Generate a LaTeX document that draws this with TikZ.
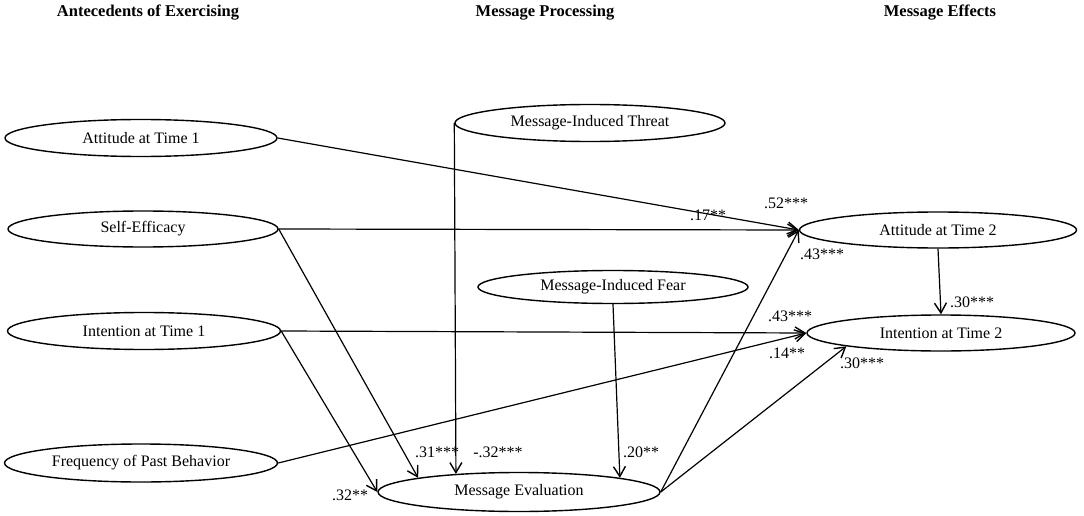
\documentclass[tikz,border=0pt]{standalone}
\usepackage{fontspec}
\setmainfont{Liberation Serif}
\usetikzlibrary{shapes.geometric,arrows.meta}
\tikzset{
  var/.style={draw, ellipse, line width=1.4pt, inner sep=0pt, font=\fontsize{16}{18}\selectfont},
  coef/.style={font=\fontsize{16}{18}\selectfont, inner sep=0pt},
  ttl/.style={font=\fontsize{16.5}{19}\selectfont\bfseries, inner sep=0pt},
  path/.style={line width=1.2pt, -{Straight Barb[length=10pt,width=12pt,line width=1.4pt]}}
}
\begin{document}
\begin{tikzpicture}[x=1pt,y=-1pt]
\useasboundingbox (0,0) rectangle (1084,516);
% titles
\node[ttl] (t1) at (148,13) {Antecedents of Exercising};
\node[ttl] (t2) at (545,13) {Message Processing};
\node[ttl] (t3) at (940,13) {Message Effects};
% variables
\node[var, minimum width=272pt, minimum height=37pt] (at1) at (141,138) {Attitude at Time 1};
\node[var, minimum width=270pt, minimum height=36pt] (se) at (143,229) {Self-Efficacy};
\node[var, minimum width=273pt, minimum height=37pt] (it1) at (144,331) {Intention at Time 1};
\node[var, minimum width=273pt, minimum height=38pt] (fr) at (141,463) {Frequency of Past Behavior};
\node[var, minimum width=270pt, minimum height=37pt] (thr) at (590,123) {Message-Induced Threat};
\node[var, minimum width=270pt, minimum height=33pt] (fear) at (613,287) {Message-Induced Fear};
\node[var, minimum width=282pt, minimum height=39pt] (me) at (519,492) {Message Evaluation};
\node[var, minimum width=277pt, minimum height=36pt] (at2) at (938,230) {Attitude at Time 2};
\node[var, minimum width=268pt, minimum height=36pt] (it2) at (941,333) {Intention at Time 2};
% paths
\draw[path] (at1.east) -- (at2.west);
\draw[path] (se.east) -- (at2.west);
\draw[path] (se.east) -- (me.172);
\draw[path] (thr.west) -- (me.164.6);
\draw[path] (it1.east) -- (it2.west);
\draw[path] (it1.east) -- (me.west);
\draw[path] (fr.east) -- (it2.west);
\draw[path] (fear.south) -- (me.8.1);
\draw[path] (me.east) -- (at2.west);
\draw[path] (me.east) -- (it2.188);
\draw[path] (at2.south) -- (it2.north);
% coefficients
\node[coef] (c1) at (786,203) {.52***};
\node[coef] (c2) at (708,215) {.17**};
\node[coef] (c3) at (822,254) {.43***};
\node[coef] (c4) at (972,302) {.30***};
\node[coef] (c5) at (790,316) {.43***};
\node[coef] (c6) at (787,353) {.14**};
\node[coef] (c7) at (862,363) {.30***};
\node[coef] (c8) at (437,452) {.31***};
\node[coef] (c9) at (498,452) {-.32***};
\node[coef] (c10) at (641,452) {.20**};
\node[coef] (c11) at (350,495) {.32**};
\end{tikzpicture}
\end{document}
